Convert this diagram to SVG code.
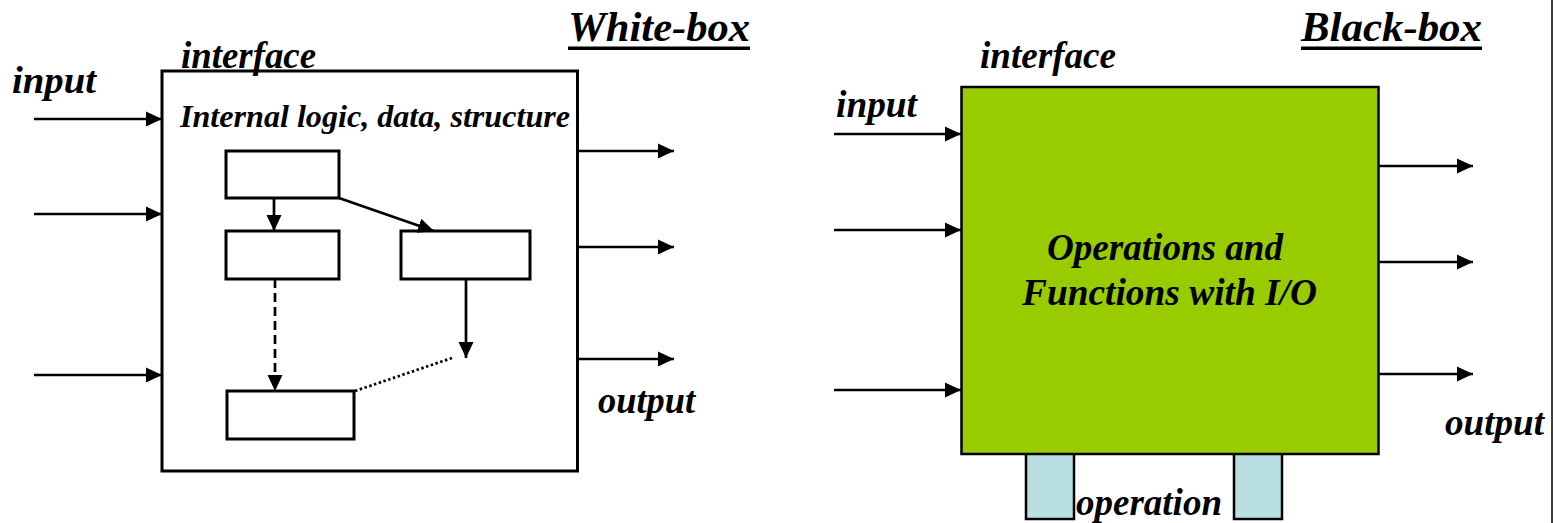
<svg xmlns="http://www.w3.org/2000/svg" width="1554" height="523" viewBox="0 0 1554 523">
  <style>
    .lbl { font-family: "Liberation Serif", "Times New Roman", serif; font-weight: bold; font-style: italic; fill: #000; }
    .box { fill: #fff; stroke: #000; stroke-width: 3; }
    .conn { stroke: #000; stroke-width: 2.7; fill: none; }
    .tab { fill: #B9DFE3; stroke: #000; stroke-width: 2.5; }
  </style>
  <defs>
    <marker id="arr" markerUnits="userSpaceOnUse" markerWidth="16" markerHeight="16" refX="16" refY="8" orient="auto">
      <path d="M0,0.5 L16,8 L0,15.5 z" fill="#000"/>
    </marker>
  </defs>
  <rect width="1554" height="523" fill="#fff"/>
  <line x1="1552" y1="0" x2="1552" y2="523" stroke="#000" stroke-width="1.5"/>

  <!-- White-box side -->
  <g id="wb-title">
    <text class="lbl" x="568" y="41" font-size="42" textLength="182" lengthAdjust="spacingAndGlyphs">White-box</text>
    <rect x="568" y="46.5" width="182" height="3.5" fill="#000"/>
  </g>
  <g id="wb-outer">
    <rect class="box" x="162" y="71" width="415.5" height="400"/>
    <text class="lbl" x="181" y="68" font-size="37" textLength="135" lengthAdjust="spacingAndGlyphs">interface</text>
    <text class="lbl" x="180" y="127" font-size="31" textLength="390" lengthAdjust="spacingAndGlyphs">Internal logic, data, structure</text>
  </g>
  <g id="wb-input-label"><text class="lbl" x="12" y="93" font-size="37" textLength="84" lengthAdjust="spacingAndGlyphs">input</text></g>
  <g id="wb-output-label"><text class="lbl" x="598" y="413" font-size="37" textLength="97" lengthAdjust="spacingAndGlyphs">output</text></g>
  <g id="wb-n1"><rect class="box" x="226" y="151" width="113" height="47"/></g>
  <g id="wb-n2"><rect class="box" x="226" y="231" width="113" height="48"/></g>
  <g id="wb-n3"><rect class="box" x="401" y="231" width="129" height="48"/></g>
  <g id="wb-n4"><rect class="box" x="227" y="391" width="127" height="48"/></g>

  <!-- Black-box side -->
  <g id="bb-title">
    <text class="lbl" x="1301" y="41" font-size="42" textLength="181" lengthAdjust="spacingAndGlyphs">Black-box</text>
    <rect x="1301" y="46.5" width="181" height="3.5" fill="#000"/>
  </g>
  <g id="bb-tab1"><rect class="tab" x="1026" y="453" width="48" height="66"/></g>
  <g id="bb-tab2"><rect class="tab" x="1234" y="453" width="48" height="66"/></g>
  <g id="bb-box">
    <rect x="961.5" y="87" width="417" height="367" fill="#99CC00" stroke="#000" stroke-width="2.5"/>
    <text class="lbl" x="1047" y="260" font-size="37" textLength="236" lengthAdjust="spacingAndGlyphs">Operations and</text>
    <text class="lbl" x="1022" y="305" font-size="37" textLength="295" lengthAdjust="spacingAndGlyphs">Functions with I/O</text>
  </g>
  <g id="bb-interface-label"><text class="lbl" x="980" y="68" font-size="37" textLength="136" lengthAdjust="spacingAndGlyphs">interface</text></g>
  <g id="bb-input-label"><text class="lbl" x="836" y="117" font-size="37" textLength="81" lengthAdjust="spacingAndGlyphs">input</text></g>
  <g id="bb-output-label"><text class="lbl" x="1445" y="435" font-size="37" textLength="99" lengthAdjust="spacingAndGlyphs">output</text></g>
  <g id="bb-operation-label"><text class="lbl" x="1076" y="515" font-size="37" textLength="146" lengthAdjust="spacingAndGlyphs">operation</text></g>

  <g id="connectors">
    <line class="conn" x1="34" y1="119" x2="162" y2="119" marker-end="url(#arr)"/>
    <line class="conn" x1="34" y1="214" x2="162" y2="214" marker-end="url(#arr)"/>
    <line class="conn" x1="34" y1="375" x2="162" y2="375" marker-end="url(#arr)"/>
    <line class="conn" x1="578" y1="151" x2="674" y2="151" marker-end="url(#arr)"/>
    <line class="conn" x1="578" y1="247" x2="674" y2="247" marker-end="url(#arr)"/>
    <line class="conn" x1="578" y1="359" x2="674" y2="359" marker-end="url(#arr)"/>
    <line class="conn" x1="274" y1="198" x2="274" y2="231" marker-end="url(#arr)"/>
    <line class="conn" x1="339" y1="198" x2="434" y2="231" marker-end="url(#arr)"/>
    <line class="conn" x1="275" y1="279" x2="275" y2="391" stroke-dasharray="9,5" marker-end="url(#arr)"/>
    <line class="conn" x1="466" y1="279" x2="466" y2="358" marker-end="url(#arr)"/>
    <line class="conn" x1="355" y1="391" x2="452" y2="358" stroke-dasharray="2.5,2.5"/>
    <line class="conn" x1="834" y1="134" x2="961" y2="134" marker-end="url(#arr)"/>
    <line class="conn" x1="834" y1="230" x2="961" y2="230" marker-end="url(#arr)"/>
    <line class="conn" x1="834" y1="390" x2="961" y2="390" marker-end="url(#arr)"/>
    <line class="conn" x1="1379" y1="166" x2="1473" y2="166" marker-end="url(#arr)"/>
    <line class="conn" x1="1379" y1="262" x2="1473" y2="262" marker-end="url(#arr)"/>
    <line class="conn" x1="1379" y1="374" x2="1473" y2="374" marker-end="url(#arr)"/>
  </g>
</svg>
